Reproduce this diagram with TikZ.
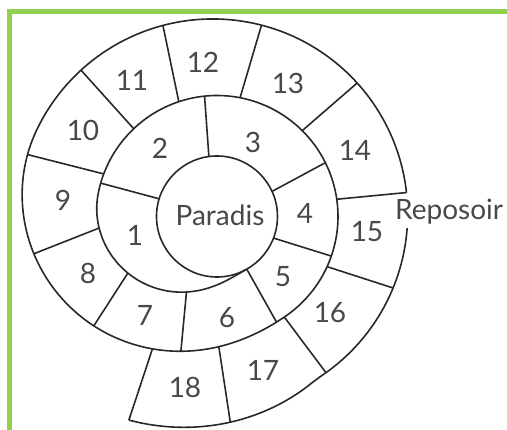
\documentclass[tikz,border=0pt]{standalone}
\usepackage{fontspec}
\setmainfont{Lato}
\usetikzlibrary{positioning}
\definecolor{framegreen}{RGB}{146,208,80}
\definecolor{ink}{RGB}{40,40,40}

\begin{document}
\begin{tikzpicture}[x=1pt,y=1pt,
  declare function={
    clp(\t)=min(max(\t,0),1);
    sst(\t)=3*clp(\t)^2-2*clp(\t)^3;
    spr(\u)=60.5+60.5*sst(\u/130)+(74+5*cos(-210.5-\u))*sst((\u-355)/150)+0.5*max(\u-718,0);
  },
  wall/.style={draw=ink,line width=1.6pt,line join=round},
  num/.style={font=\fontsize{28}{28}\selectfont,text=ink!85}]
\useasboundingbox (-217,-213.5) rectangle (290,216.5);
\draw[framegreen,line width=4.8pt] (-207.8,-213.5) -- (-207.8,204.8) -- (290,204.8);
% centre and the spiral wall
\draw[wall] (0,0) circle (60.5);
\draw[wall] plot[domain=0:652.3,samples=240,smooth,variable=\u] ({-60.5-\u}:{spr(\u)});
\draw[wall] plot[domain=663:772.9,samples=40,smooth,variable=\u] ({-60.5-\u}:{spr(\u)});
% cross walls
\foreach \p/\q in {163/135.5,97.7/203.6,24.5/273.1,-20.9/318.6}
  \draw[wall] (\p:60.5) -- ({-60.5-\q}:{spr(\q)});
\foreach \p/\q in {0/360.1,51.5/404.5,87.1/437.9,113.9/468,140.1/497.6,166/526.6,191.1/553.7,220.5/582.6,254.3/615.9,291.3/652.3,324/681.6,355.7/714.6,388.7/745.8,415.5/772.9}
  \draw[wall] ({-60.5-\p}:{spr(\p)}) -- ({-60.5-\q}:{spr(\q)});
% squares
\foreach \k/\x/\y in {1/-82/-18.5,2/-57/68.5,3/36/74.5,4/88/3.5,5/66/-60.5,6/10/-101.5,7/-72/-98.5,8/-129/-56.5,9/-154/16.5,10/-134/86.5,11/-85/136.5,12/-14/154.5,13/71/133.5,14/138/66.5,15/150/-15.5,16/113/-96.5,17/46/-153.5,18/-32/-170.5}
  \node[num] (n\k) at (\x,\y) {\k};
\node[num] (paradis) at (3,1.5) {Paradis};
\node[num,inner sep=0pt,anchor=base west] (reposoir) at (178,-3.5) {Reposoir};
\end{tikzpicture}
\end{document}
